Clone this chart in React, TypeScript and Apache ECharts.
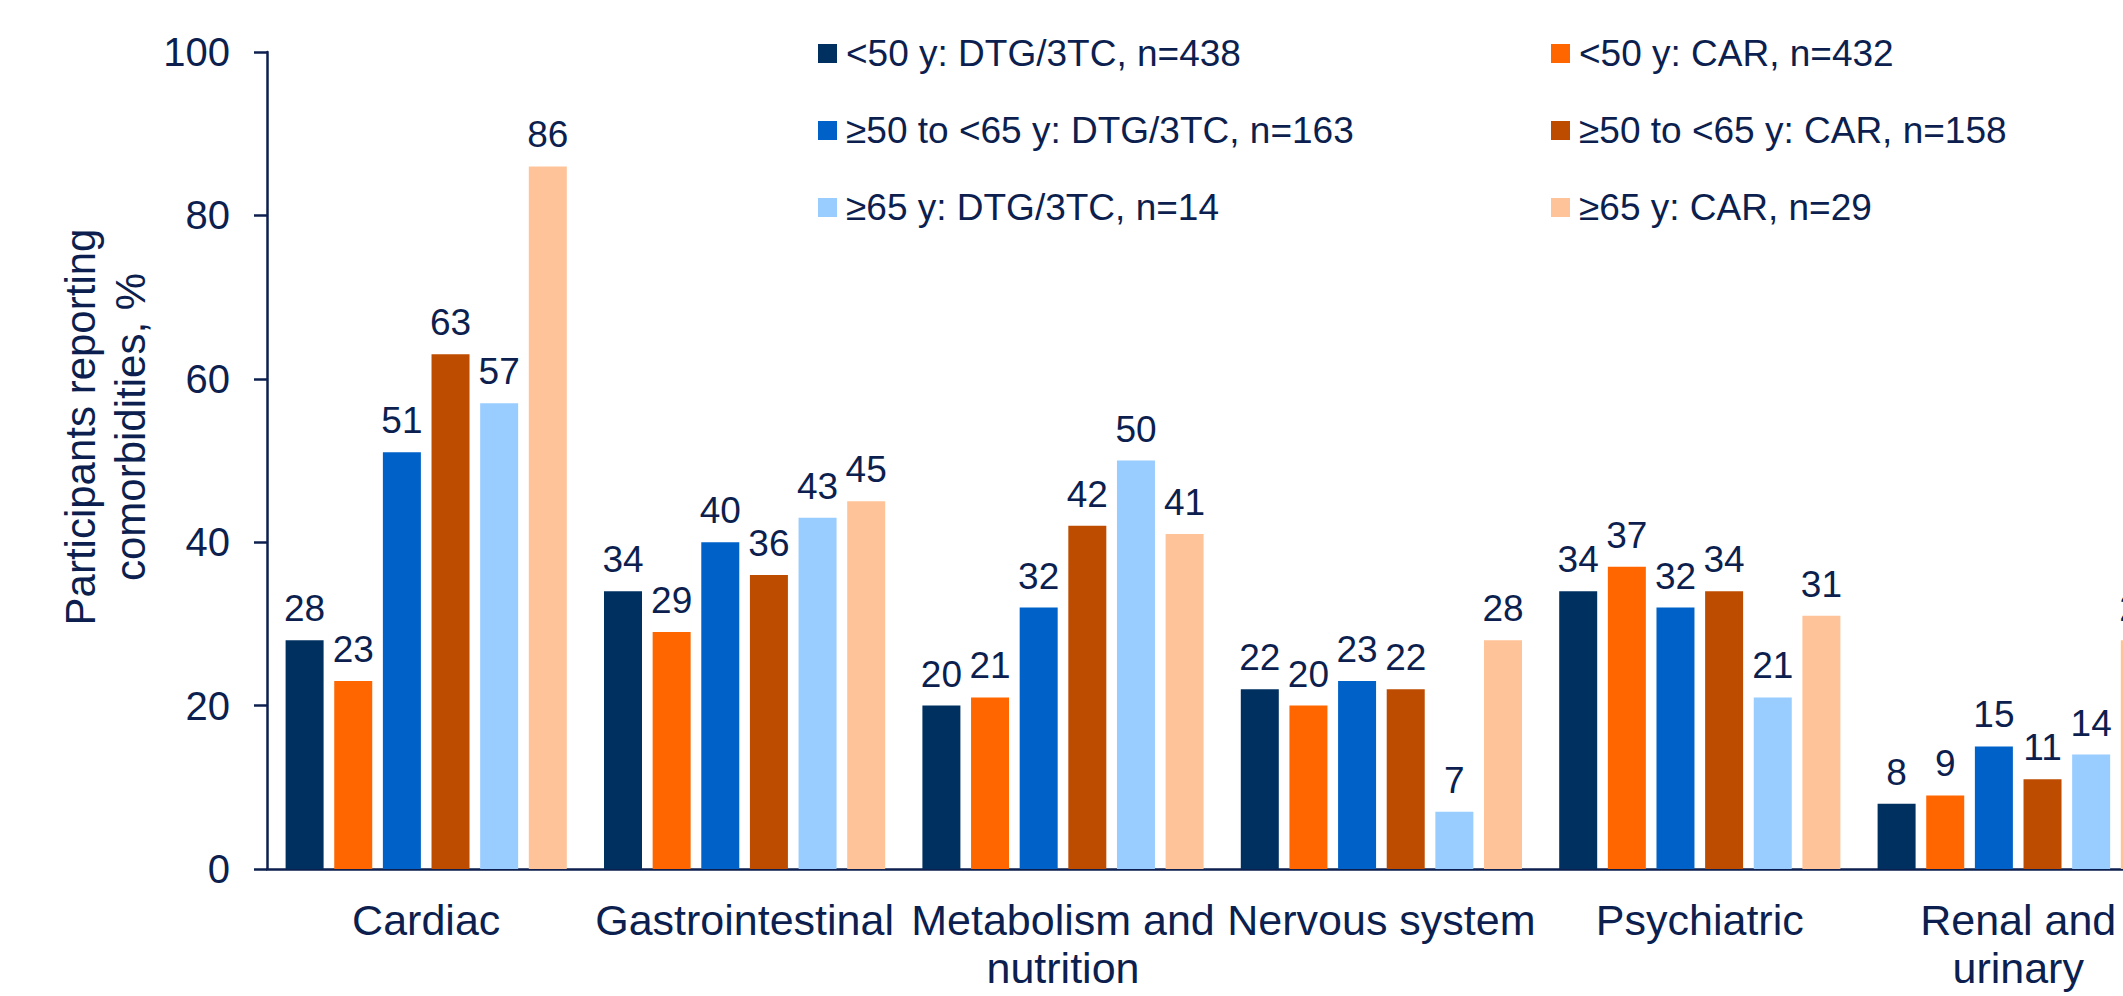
import React, { useEffect, useRef } from "react";
import * as echarts from "echarts";

const categories = [
  "Cardiac",
  "Gastrointestinal",
  "Metabolism and\nnutrition",
  "Nervous system",
  "Psychiatric",
  "Renal and\nurinary",
];

const seriesNames = [
  "<50 y: DTG/3TC, n=438",
  "<50 y: CAR, n=432",
  "≥50 to <65 y: DTG/3TC, n=163",
  "≥50 to <65 y: CAR, n=158",
  "≥65 y: DTG/3TC, n=14",
  "≥65 y: CAR, n=29",
];

const under50Dtg = [28, 34, 20, 22, 34, 8];
const under50Car = [23, 29, 21, 20, 37, 9];
const mid50Dtg = [51, 40, 32, 23, 32, 15];
const mid50Car = [63, 36, 42, 22, 34, 11];
const over65Dtg = [57, 43, 50, 7, 21, 14];
const over65Car = [86, 45, 41, 28, 31, 28];

const seriesValues = [under50Dtg, under50Car, mid50Dtg, mid50Car, over65Dtg, over65Car];
const seriesColors = ["#003060", "#FF6600", "#0062C8", "#BE4C00", "#99CCFF", "#FFC399"];

const yTicks = { min: 0, max: 100, interval: 20 };
const yAxisTitle = "Participants reporting\ncomorbidities, %";

const TEXT = "#0C1F4F";
const FONT = "'Liberation Sans', Arial, sans-serif";

export default function App() {
  const ref = useRef<HTMLDivElement>(null);

  useEffect(() => {
    if (!ref.current) return;
    const chart = echarts.init(ref.current, undefined, { renderer: "svg" });

    const series = seriesNames.map((name, i) => ({
      name,
      type: "bar",
      data: seriesValues[i],
      barWidth: 38,
      barGap: "28%",
      itemStyle: { color: seriesColors[i] },
      label: {
        show: true,
        position: "top",
        distance: 13,
        color: TEXT,
        fontFamily: FONT,
        fontSize: 37,
      },
    }));

    const legendCommon = {
      orient: "vertical",
      top: 35,
      padding: 0,
      itemWidth: 19,
      itemHeight: 19,
      itemGap: 40,
      icon: "rect",
      textStyle: {
        color: TEXT,
        fontFamily: FONT,
        fontSize: 37,
        padding: [0, 0, 0, 4],
      },
    };

    chart.setOption({
      animation: false,
      textStyle: { fontFamily: FONT },
      legend: [
        { ...legendCommon, left: 818, data: [seriesNames[0], seriesNames[2], seriesNames[4]] },
        { ...legendCommon, left: 1551, data: [seriesNames[1], seriesNames[3], seriesNames[5]] },
      ],
      grid: { left: 267, top: 52, bottom: 127, right: 22.6, containLabel: false },
      xAxis: {
        type: "category",
        data: categories,
        axisLine: { lineStyle: { color: TEXT, width: 2.5 } },
        axisTick: { show: false },
        axisLabel: {
          interval: 0,
          color: TEXT,
          fontFamily: FONT,
          fontSize: 43,
          lineHeight: 48,
          margin: 27,
        },
      },
      yAxis: {
        type: "value",
        min: yTicks.min,
        max: yTicks.max,
        interval: yTicks.interval,
        splitLine: { show: false },
        axisLine: { show: true, lineStyle: { color: TEXT, width: 2.5 } },
        axisTick: { show: true, inside: false, length: 13, lineStyle: { color: TEXT, width: 2.5 } },
        axisLabel: { color: TEXT, fontFamily: FONT, fontSize: 40, margin: 37 },
      },
      graphic: [
        {
          type: "text",
          x: 105,
          y: 427,
          rotation: Math.PI / 2,
          style: {
            text: yAxisTitle,
            fill: TEXT,
            fontSize: 42,
            fontFamily: FONT,
            lineHeight: 50,
            align: "center",
            verticalAlign: "middle",
          },
        },
      ],
      series,
    });

    return () => chart.dispose();
  }, []);

  return (
    <div
      style={{
        position: "fixed",
        left: 0,
        top: 0,
        width: 2123,
        height: 996,
        overflow: "hidden",
        background: "#ffffff",
      }}
    >
      <div ref={ref} style={{ width: 2200, height: 996 }} />
    </div>
  );
}
